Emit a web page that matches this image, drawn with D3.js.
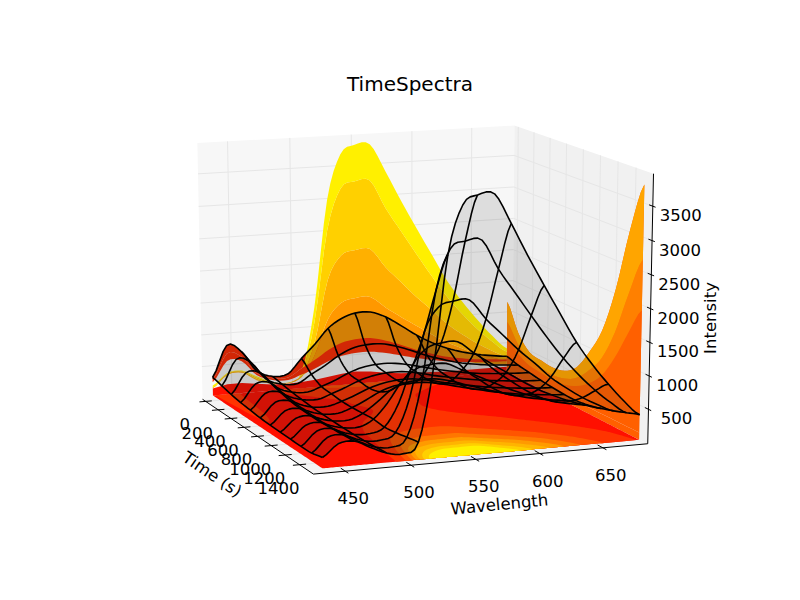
<!DOCTYPE html>
<html>
<head>
<meta charset="utf-8">
<script src="https://cdn.jsdelivr.net/npm/d3@7"></script>
<style>
  html, body { margin: 0; background: #fff; }
  text { font-family: "DejaVu Sans", sans-serif; fill: #000; }
</style>
</head>
<body>
<svg id="chart" width="800" height="600"></svg>
<script>
const wavelengths = [437, 449, 461, 473, 486, 499, 510.2, 521.4, 532.6, 543.8, 555, 568, 581, 594, 607, 620, 633, 646, 659, 672, 684.5];
const times = [-100, 47, 194, 340, 487, 634, 781, 927, 1074, 1221, 1368, 1515];

// intensity per time row, one value per wavelength
const row0 = [280, 770, 650, 330, 220, 240, 470, 680, 920, 1060, 1130, 1130, 1030, 870, 700, 560, 450, 370, 310, 270, 240];
const row1 = [240, 640, 570, 290, 190, 180, 310, 430, 570, 670, 710, 710, 650, 560, 460, 380, 310, 265, 230, 210, 190];
const row2 = [200, 520, 500, 260, 160, 140, 210, 290, 390, 460, 490, 490, 450, 390, 330, 280, 235, 205, 185, 170, 160];
const row3 = [170, 440, 440, 230, 140, 120, 190, 270, 360, 420, 450, 450, 410, 350, 300, 255, 215, 185, 160, 140, 130];
const row4 = [150, 390, 390, 210, 120, 110, 170, 250, 340, 400, 430, 430, 390, 330, 280, 235, 195, 165, 140, 120, 110];
const row5 = [130, 350, 350, 190, 110, 100, 170, 270, 380, 450, 470, 470, 430, 370, 310, 255, 205, 165, 135, 110, 95];
const row6 = [120, 320, 330, 180, 105, 95, 180, 330, 500, 590, 620, 620, 565, 485, 405, 330, 260, 200, 155, 120, 95];
const row7 = [115, 300, 320, 175, 100, 90, 190, 420, 720, 900, 950, 950, 830, 710, 590, 470, 370, 290, 210, 160, 120];
const row8 = [110, 300, 320, 180, 100, 90, 170, 510, 1070, 1310, 1370, 1370, 1180, 1010, 850, 690, 545, 425, 320, 240, 170];
const row9 = [105, 310, 330, 200, 105, 95, 190, 700, 1650, 2010, 2080, 2080, 1780, 1530, 1280, 1060, 825, 640, 475, 340, 230];
const row10 = [110, 320, 340, 220, 115, 95, 220, 980, 2350, 2950, 3040, 3040, 2600, 2240, 1880, 1530, 1205, 925, 680, 470, 300];
const row11 = [150, 330, 350, 240, 130, 100, 250, 1280, 2950, 3650, 3780, 3780, 3340, 2860, 2410, 1970, 1535, 1180, 870, 590, 370];
const intensity = [row0, row1, row2, row3, row4, row5, row6, row7, row8, row9, row10, row11];

// lowest contour on the back wall, under the pale gap
const backLow = [100, 150, 150, 120, 90, 80, 90, 110, 140, 170, 190, 170, 130, 100, 90, 80, 70, 70, 70, 70, 70];

const wavelengthTicks = [450, 500, 550, 600, 650];
const timeTicks = [0, 200, 400, 600, 800, 1000, 1200, 1400];
const intensityTicks = [500, 1000, 1500, 2000, 2500, 3000, 3500];

// contourf bands: floor by intensity, back wall by time, side wall by wavelength
const floorLevels = [60, 400, 950, 1400, 1800, 2200, 2600, 2950];
const floorColors = ['#ff1000', '#ff3400', '#ff5500', '#ff7700', '#ff9a00', '#ffb400', '#ffd000', '#fff000'];
const backBands = [
  [-100, 47, '#ff2a00'],
  [820, 1074, '#ff9800'],
  [1074, 1230, '#ffb000'],
  [1230, 1397, '#ffd000'],
  [1397, 1515, '#fff000'],
  [47, 194, '#ff2a00']
];
const sideBands = [
  [499, 555, '#ff6000'],
  [621, 684.5, '#ff6000'],
  [599, 621, '#ff8000'],
  [555, 599, '#ffa500']
];
// the floor contours sit a little left of the wires on the rising side
const floorShiftAt = [437, 500, 530, 555, 620];
const floorShiftBy = [0, -22, -15, -3, 0];

const svg = d3.select('#chart');

// camera, same idea as the mplot3d one
const elev = 14 * Math.PI / 180, azim = -111 * Math.PI / 180, dist = 10;
const sx = 348.5, sy = 271, cx = 419, cy = 291;
const rightV = [-Math.sin(azim), Math.cos(azim), 0];
const upV = [-Math.sin(elev) * Math.cos(azim), -Math.sin(elev) * Math.sin(azim), Math.cos(elev)];
const toCam = [Math.cos(elev) * Math.cos(azim), Math.cos(elev) * Math.sin(azim), Math.sin(elev)];

const xScale = d3.scaleLinear().domain([426, 686]).range([0, 1]);
const yScale = d3.scaleLinear().domain([-50, 1590]).range([1, 0]);
const zScale = d3.scaleLinear().domain([-20, 3970]).range([0, 1]);

function dot(a, b) { return a[0] * b[0] + a[1] * b[1] + a[2] * b[2]; }

function project(l, t, z) {
  const p = [xScale(l) - 0.5, yScale(t) - 0.5, zScale(z) - 0.5];
  const f = dist / (dist - dot(p, toCam));
  return [cx + sx * dot(p, rightV) * f, cy - sy * dot(p, upV) * f];
}

// catmull-rom through a list, u in index units
function cat(vals, u) {
  const n = vals.length - 1;
  const i = Math.max(0, Math.min(n - 1, Math.floor(u)));
  const s = u - i;
  const p0 = vals[Math.max(0, i - 1)], p1 = vals[i], p2 = vals[i + 1], p3 = vals[Math.min(n, i + 2)];
  return 0.5 * (2 * p1 + (p2 - p0) * s + (2 * p0 - 5 * p1 + 4 * p2 - p3) * s * s + (3 * p1 - p0 - 3 * p2 + p3) * s * s * s);
}

const lIndex = d3.scaleLinear().domain(wavelengths).range(wavelengths.map((d, i) => i));
const tIndex = d3.scaleLinear().domain(times).range(times.map((d, i) => i));
const lAt = d3.scaleLinear().domain(wavelengths.map((d, i) => i)).range(wavelengths);
const tAt = d3.scaleLinear().domain(times.map((d, i) => i)).range(times);
const floorShift = d3.scaleLinear().domain(floorShiftAt).range(floorShiftBy).clamp(true);

function surf(l, t) {
  const u = lIndex(l);
  const col = intensity.map(r => cat(r, u));
  return cat(col, tIndex(t));
}

const line = d3.line();
const STEP = 0.25;
const lFine = d3.range(0, wavelengths.length - 1 + STEP / 2, STEP).map(u => lAt(u));
const tFine = d3.range(0, times.length - 1 + STEP / 2, STEP).map(u => tAt(u));
const lEnd = wavelengths[wavelengths.length - 1];
const tStart = times[0];
const floorZ = -10;

// panes
function quad(pts) { return line(pts.map(p => project(p[0], p[1], p[2]))) + 'Z'; }
const [lLo, lHi] = xScale.domain(), [tLo, tHi] = yScale.domain(), [zLo, zHi] = zScale.domain();
const panes = svg.append('g');
panes.append('path').attr('d', quad([[lLo, tLo, zLo], [lHi, tLo, zLo], [lHi, tLo, zHi], [lLo, tLo, zHi]])).attr('fill', '#f7f7f7');
panes.append('path').attr('d', quad([[lHi, tLo, zLo], [lHi, tHi, zLo], [lHi, tHi, zHi], [lHi, tLo, zHi]])).attr('fill', '#f1f1f1');
panes.append('path').attr('d', quad([[lLo, tLo, zLo], [lHi, tLo, zLo], [lHi, tHi, zLo], [lLo, tHi, zLo]])).attr('fill', '#f4f4f4');

// grid
const grid = svg.append('g').attr('stroke', '#e6e6e6').attr('stroke-width', 1).attr('fill', 'none');
wavelengthTicks.forEach(l => grid.append('path').attr('d', line([project(l, tHi, zLo), project(l, tLo, zLo), project(l, tLo, zHi)])));
timeTicks.forEach(t => grid.append('path').attr('d', line([project(lLo, t, zLo), project(lHi, t, zLo), project(lHi, t, zHi)])));
intensityTicks.forEach(z => grid.append('path').attr('d', line([project(lLo, tLo, z), project(lHi, tLo, z), project(lHi, tHi, z)])));

// back wall, band between two time rows, flat on the first time
const backG = svg.append('g');
backBands.forEach(([t0, t1, c]) => {
  const top = lFine.map(l => project(l, tStart, surf(l, t1)));
  const bot = lFine.map(l => project(l, tStart, surf(l, t0))).reverse();
  backG.append('path').attr('d', line(top.concat(bot)) + 'Z').attr('fill', c);
});
const lowTop = wavelengths.map((l, i) => project(l, tStart, backLow[i]));
const lowBot = wavelengths.map(l => project(l, tStart, floorZ)).reverse();
backG.append('path').attr('d', line(lowTop.concat(lowBot)) + 'Z').attr('fill', '#ff1000');

// side wall, band between two wavelength columns, flat on the last wavelength
const sideG = svg.append('g');
const sideBase = tFine.map(t => project(lEnd, t, floorZ));
const sideBaseTop = tFine.map(t => project(lEnd, t, surf(sideBands[0][0], t))).reverse();
sideG.append('path').attr('d', line(sideBase.concat(sideBaseTop)) + 'Z').attr('fill', sideBands[0][2]);
sideBands.forEach(([l0, l1, c]) => {
  const top = tFine.map(t => project(lEnd, t, surf(l0, t)));
  const bot = tFine.map(t => project(lEnd, t, surf(l1, t))).reverse();
  sideG.append('path').attr('d', line(top.concat(bot)) + 'Z').attr('fill', c);
});

// floor contours
const DENSE = 6;
const nx = (wavelengths.length - 1) * DENSE + 1, ny = (times.length - 1) * DENSE + 1;
const values = new Array(nx * ny);
for (let j = 0; j < ny; j++) {
  for (let i = 0; i < nx; i++) {
    const c = intensity.map(r => cat(r, i / DENSE));
    values[j * nx + i] = cat(c, j / DENSE);
  }
}
const contours = d3.contours().size([nx, ny]).smooth(true).thresholds(floorLevels);
const floorG = svg.append('g');
const toFloor = ([gx, gy]) => {
  const l = lAt(Math.min(wavelengths.length - 1, Math.max(0, (gx - 0.5) / DENSE)));
  const t = tAt(Math.min(times.length - 1, Math.max(0, (gy - 0.5) / DENSE)));
  return project(Math.max(wavelengths[0], l + floorShift(l)), t, floorZ);
};
contours(values).forEach((c, i) => {
  const d = c.coordinates.map(poly => poly.map(ring => line(ring.map(toFloor)) + 'Z').join('')).join('');
  floorG.append('path').attr('d', d).attr('fill', floorColors[i]).attr('fill-rule', 'evenodd');
});

// surface cells, stride of 2 wavelengths and 1 time row
const surfG = svg.append('g');
const cells = [];
for (let j = 0; j < times.length - 1; j++) {
  for (let i = 0; i < wavelengths.length - 1; i += 2) {
    const la = d3.range(0, 2 + STEP / 2, STEP).map(s => lAt(i + s));
    const ta = d3.range(0, 1 + STEP / 2, STEP).map(s => tAt(j + s));
    const pts = la.map(l => [l, times[j]])
      .concat(ta.map(t => [wavelengths[i + 2], t]))
      .concat(la.slice().reverse().map(l => [l, times[j + 1]]))
      .concat(ta.slice().reverse().map(t => [wavelengths[i], t]));
    cells.push({ i, j, pts: pts.map(([l, t]) => project(l, t, surf(l, t))) });
  }
}
surfG.selectAll('path').data(cells).enter().append('path')
  .attr('d', d => line(d.pts) + 'Z')
  .attr('fill', 'rgb(30,30,30)')
  .attr('fill-opacity', d => (d.j >= 7 && d.i >= 6) ? 0.12 : 0.2);

// wires
const wires = svg.append('g').attr('fill', 'none').attr('stroke', '#000').attr('stroke-width', 1.6).attr('stroke-linejoin', 'round');
times.forEach(t => wires.append('path').attr('d', line(lFine.map(l => project(l, t, surf(l, t))))));
wavelengths.filter((d, i) => i % 2 === 0).forEach(l => wires.append('path').attr('d', line(tFine.map(t => project(l, t, surf(l, t))))));

// axes
const axes = svg.append('g').attr('stroke', '#000').attr('fill', 'none').attr('stroke-width', 1);
axes.append('path').attr('d', line([project(lLo, tLo, zLo), project(lLo, tHi, zLo), project(lHi, tHi, zLo), project(lHi, tHi, zHi)]));

const labels = svg.append('g').attr('font-size', 16.5).attr('text-anchor', 'middle');
wavelengthTicks.forEach(l => {
  const [a, b] = [project(l, tHi - 60, zLo), project(l, tHi + 40, zLo)];
  axes.append('path').attr('d', line([a, b]));
  const p = project(l, tHi, zLo);
  labels.append('text').attr('x', p[0] + 8).attr('y', p[1] + 33).text(l);
});
timeTicks.forEach(t => {
  const [a, b] = [project(lLo + 5, t, zLo), project(lLo - 5, t, zLo)];
  axes.append('path').attr('d', line([a, b]));
  const p = project(lLo, t, zLo);
  labels.append('text').attr('x', p[0] - 21).attr('y', p[1] + 29).text(t);
});
intensityTicks.forEach(z => {
  const [a, b] = [project(lHi, tHi - 40, z), project(lHi, tHi + 30, z)];
  axes.append('path').attr('d', line([a, b]));
  const p = project(lHi, tHi, z);
  labels.append('text').attr('x', p[0] + 28).attr('y', p[1] + 15).text(z);
});

svg.append('text').attr('x', 410).attr('y', 91).attr('text-anchor', 'middle').attr('font-size', 20).text('TimeSpectra');
svg.append('text').attr('text-anchor', 'middle').attr('font-size', 16.5)
  .attr('transform', 'translate(500,510) rotate(-5.5)').text('Wavelength');
svg.append('text').attr('text-anchor', 'middle').attr('font-size', 16.5)
  .attr('transform', 'translate(209,479) rotate(34)').text('Time (s)');
svg.append('text').attr('text-anchor', 'middle').attr('font-size', 16.5)
  .attr('transform', 'translate(716,318) rotate(-90)').text('Intensity');
</script>
</body>
</html>
